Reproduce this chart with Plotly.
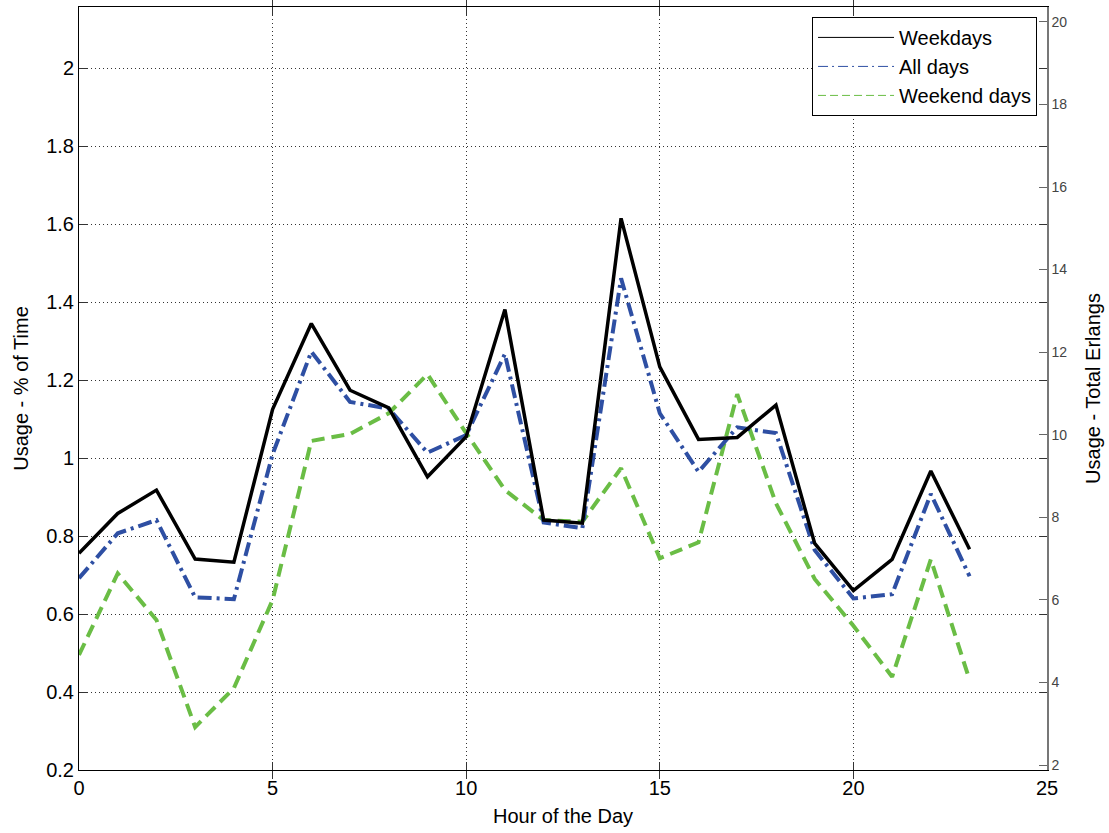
import plotly.graph_objects as go

hours = list(range(24))

weekdays = [0.756, 0.858, 0.918, 0.741, 0.733, 1.125, 1.345, 1.174, 1.129, 0.952,
            1.055, 1.381, 0.841, 0.833, 1.615, 1.234, 1.048, 1.053, 1.136, 0.781,
            0.660, 0.740, 0.967, 0.766]
all_days = [0.692, 0.807, 0.841, 0.643, 0.638, 1.010, 1.273, 1.144, 1.127, 1.014,
            1.059, 1.267, 0.835, 0.820, 1.461, 1.115, 0.965, 1.079, 1.064, 0.764,
            0.640, 0.651, 0.908, 0.697]
weekend_days = [0.495, 0.704, 0.585, 0.310, 0.410, 0.636, 1.044, 1.062, 1.115, 1.215,
                1.064, 0.918, 0.841, 0.837, 0.974, 0.743, 0.784, 1.164, 0.884, 0.690,
                0.570, 0.439, 0.740, 0.431]

x_ticks = [0, 5, 10, 15, 20, 25]
left_ticks = [0.2, 0.4, 0.6, 0.8, 1.0, 1.2, 1.4, 1.6, 1.8, 2.0]
left_labels = ["0.2", "0.4", "0.6", "0.8", "1", "1.2", "1.4", "1.6", "1.8", "2"]
right_ticks = [2, 4, 6, 8, 10, 12, 14, 16, 18, 20]

BLACK = "#000000"
BLUE = "#2e4fa3"
GREEN = "#6abd45"
FONT = "Liberation Sans, Arial, sans-serif"
GRID_DASH = "1px,3px"

fig = go.Figure()

# data lines (legend entries are drawn by thin proxy traces below)
fig.add_trace(go.Scatter(x=hours, y=weekend_days, mode="lines", showlegend=False,
                         line=dict(color=GREEN, width=4, dash="13px,7px")))
fig.add_trace(go.Scatter(x=hours, y=all_days, mode="lines", showlegend=False,
                         line=dict(color=BLUE, width=4, dash="14px,5px,3px,5px")))
fig.add_trace(go.Scatter(x=hours, y=weekdays, mode="lines", showlegend=False,
                         line=dict(color=BLACK, width=3.5)))

# thin legend samples
fig.add_trace(go.Scatter(x=[None], y=[None], mode="lines", name="Weekdays",
                         line=dict(color=BLACK, width=1)))
fig.add_trace(go.Scatter(x=[None], y=[None], mode="lines", name="All days",
                         line=dict(color=BLUE, width=1, dash="10px,4px,2px,4px")))
fig.add_trace(go.Scatter(x=[None], y=[None], mode="lines", name="Weekend days",
                         line=dict(color=GREEN, width=1, dash="8px,4px")))

# secondary axis carrier (invisible)
fig.add_trace(go.Scatter(x=[None], y=[None], yaxis="y2", showlegend=False,
                         hoverinfo="skip"))

fig.update_layout(
    width=1109, height=833,
    margin=dict(l=79, r=62, t=7, b=63),
    paper_bgcolor="white", plot_bgcolor="white",
    font=dict(family=FONT, color="black", size=20),
    xaxis=dict(
        range=[0, 25], tickvals=x_ticks, ticks="inside", ticklen=8,
        tickcolor="#333", showline=True, linecolor="black", linewidth=1,
        mirror="allticks", showgrid=True, gridcolor="#333", griddash=GRID_DASH,
        gridwidth=1, zeroline=False, tickfont=dict(size=20),
        title=dict(text="Hour of the Day", font=dict(size=20), standoff=10),
    ),
    yaxis=dict(
        range=[0.2, 2.157], tickvals=left_ticks, ticktext=left_labels,
        ticks="inside", ticklen=8, tickcolor="#333", showline=True,
        linecolor="black", linewidth=1, mirror="allticks", showgrid=True,
        gridcolor="#333", griddash=GRID_DASH, gridwidth=1, zeroline=False,
        tickfont=dict(size=20),
        title=dict(text="Usage - % of Time", font=dict(size=20), standoff=12),
    ),
    yaxis2=dict(
        overlaying="y", side="right", range=[1.88, 20.36], tickvals=right_ticks,
        ticks="inside", ticklen=8, tickcolor="#666", showline=True,
        linecolor="#777", linewidth=1.5, showgrid=False, zeroline=False,
        tickfont=dict(size=14, color="#444"),
        title=dict(text="Usage - Total Erlangs", font=dict(size=20), standoff=20),
    ),
    legend=dict(
        x=0.9897, y=0.987, xanchor="right", yanchor="top",
        bgcolor="white", bordercolor="black", borderwidth=1,
        font=dict(size=20), itemwidth=76, tracegroupgap=0,
    ),
)

fig.write_html("out.html")
